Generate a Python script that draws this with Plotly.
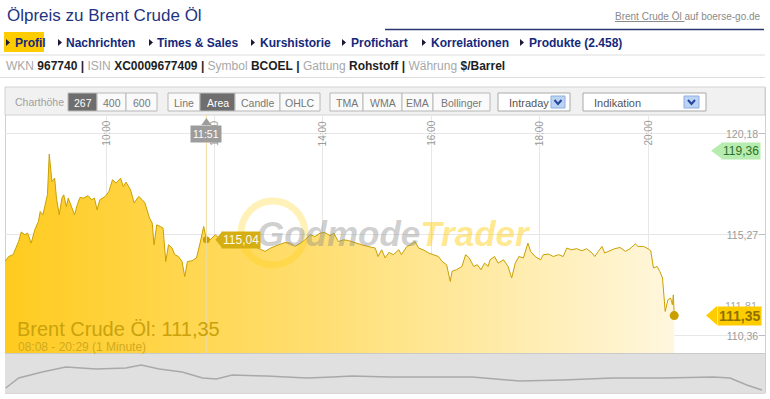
import plotly.graph_objects as go

W, H = 770, 399
DAY = "2012-03-01 "

# ---------------- data ----------------
times = ["08:08","08:12","08:17","08:23","08:26","08:30","08:33","08:37","08:41","08:45",
         "08:47","08:50","08:52","08:55","08:57","09:00","09:03","09:05","09:08","09:11",
         "09:13","09:16","09:18","09:21","09:25","09:28","09:31","09:35","09:40","09:44",
         "09:47","09:50","09:53","09:59","10:03","10:07","10:11","10:16","10:19","10:22",
         "10:27","10:31","10:36","10:40","10:43","10:48","10:51","10:53","10:56","11:00",
         "11:03","11:06","11:09","11:13","11:16","11:20","11:24","11:27","11:30","11:35",
         "11:40","11:44","11:48","11:51","11:55","12:01","12:12","12:28","12:45","12:56",
         "13:02","13:11","13:18","13:24","13:29","13:35","13:40","13:46","13:51","13:57",
         "14:02","14:08","14:12","14:17","14:23","14:28","14:36","14:43","14:50","14:58",
         "15:01","15:05","15:09","15:13","15:18","15:24","15:27","15:33","15:37","15:42",
         "15:46","15:51","15:57","16:02","16:08","16:12","16:17","16:21","16:23","16:28",
         "16:34","16:38","16:42","16:47","16:51","16:55","16:59","17:03","17:05","17:10",
         "17:14","17:20","17:25","17:29","17:33","17:37","17:42","17:47","17:50","17:55",
         "18:01","18:04","18:10","18:15","18:21","18:26","18:30","18:35","18:41","18:47",
         "18:52","18:58","19:01","19:05","19:09","19:12","19:18","19:23","19:29","19:35",
         "19:40","19:46","19:49","19:55","20:00","20:03","20:06","20:10","20:13","20:16",
         "20:19","20:22","20:25","20:27","20:28","20:29"]
prices = [113.98,114.22,114.31,114.95,115.41,115.28,115.36,114.87,115.52,115.92,
          116.41,116.25,116.65,117.22,119.20,117.86,118.03,117.06,116.25,117.06,
          117.22,116.65,117.06,116.73,116.25,116.73,117.09,117.06,117.18,116.98,
          117.06,116.49,116.98,117.14,117.38,117.95,117.79,118.03,117.62,117.84,
          117.46,116.82,117.14,116.98,116.82,116.09,115.85,114.79,115.76,115.68,
          115.60,113.98,114.79,114.63,114.31,114.22,113.98,113.25,113.98,114.01,
          114.15,114.87,115.68,115.04,115.03,115.28,114.79,114.94,114.69,114.47,
          114.63,114.79,114.90,114.87,114.71,114.87,115.03,115.28,115.19,115.36,
          115.39,115.23,115.36,114.95,115.03,115.00,114.87,114.79,114.71,114.63,
          114.22,114.55,114.15,114.42,114.31,114.55,114.31,114.71,114.79,114.95,
          114.63,114.55,114.39,114.31,114.22,113.98,113.82,113.01,113.50,113.58,
          113.74,114.31,114.15,113.74,113.82,113.58,113.90,113.74,114.06,114.22,
          113.90,114.06,113.74,113.18,113.90,114.22,114.15,114.87,114.47,114.22,
          114.06,114.31,114.34,114.22,114.31,114.22,114.63,114.55,114.60,114.50,
          114.60,114.39,114.22,114.47,114.71,114.39,114.50,114.60,114.66,114.47,
          114.60,114.83,114.71,114.71,114.60,114.50,113.66,113.74,113.50,113.18,
          111.55,112.12,112.20,111.88,112.36,111.35]

price_ticks = [110.36, 115.27, 120.18]
price_tick_text = ["110,36", "115,27", "120,18"]
time_ticks = ["10:00", "12:00", "14:00", "16:00", "18:00", "20:00"]

cursor_time = "11:51"
cursor_price = 115.04
day_high = 119.36
prev_mark = 111.81
last_price = 111.35
first_time = "08:08"
last_time = "20:29"

nav_pos = [0.1, 1.8, 4.9, 8.0, 12.0, 15.9, 17.9, 20.3, 23.3, 26.0, 27.8, 29.9, 34.4, 39.7,
           43.1, 45.7, 50.6, 55.9, 61.5, 67.7, 73.4, 80.0, 86.6, 93.2, 95.4, 97.6, 99.6]
nav_vals = [1.25, 3.75, 5.25, 6.5, 6.0, 6.25, 7.0, 6.0, 5.25, 3.75, 3.5, 4.5, 4.25, 3.75,
            4.0, 4.25, 4.0, 4.0, 4.0, 3.0, 3.25, 3.75, 3.75, 4.0, 3.75, 2.0, 0.75]

def fmt(v):
    return f"{v:.2f}".replace(".", ",")

# ---------------- helpers ----------------
def px(x): return x / W
def py(y): return 1 - y / H

shapes = []
annots = []

def rect(x0, y0, x1, y1, fill, line=None, lw=1, layer="below"):
    shapes.append(dict(type="rect", xref="paper", yref="paper",
                       x0=px(x0), x1=px(x1), y0=py(y1), y1=py(y0),
                       fillcolor=fill, layer=layer,
                       line=dict(color=line or fill, width=lw if line else 0)))

def hline(x0, x1, y, color, lw=1, layer="below"):
    shapes.append(dict(type="line", xref="paper", yref="paper",
                       x0=px(x0), x1=px(x1), y0=py(y), y1=py(y),
                       line=dict(color=color, width=lw), layer=layer))

def vline(x, y0, y1, color, lw=1, layer="below"):
    shapes.append(dict(type="line", xref="paper", yref="paper",
                       x0=px(x), x1=px(x), y0=py(y0), y1=py(y1),
                       line=dict(color=color, width=lw), layer=layer))

def text(x, y, s, size=12, color="#222", xanchor="left", family=None, **kw):
    f = dict(size=size, color=color)
    if family:
        f["family"] = family
    annots.append(dict(x=px(x), y=py(y), xref="paper", yref="paper", text=s,
                       showarrow=False, xanchor=xanchor, yanchor="middle", font=f, **kw))

def tri(x, y, color):
    shapes.append(dict(type="path", xref="paper", yref="paper",
                       path=f"M {px(x)},{py(y-3.5)} L {px(x+4)},{py(y)} L {px(x)},{py(y+3.5)} Z",
                       fillcolor=color, line=dict(width=0), layer="above"))

# ---------------- header ----------------
text(5, 15, "Ölpreis zu Brent Crude Öl", size=17, color="#1F347F")
text(763, 16, "<span style='text-decoration:underline'>Brent Crude Öl </span>auf boerse-go.de",
     size=10, color="#8a8a8a", xanchor="right")
hline(385, 764, 29.5, "#2a356f", 1.5)

# nav row
rect(4, 32, 44, 52, "#FFCC00")
nav_items = [("Profil", 6, 13), ("Nachrichten", 58, 64), ("Times & Sales", 149, 155),
             ("Kurshistorie", 251, 258), ("Profichart", 342, 349),
             ("Korrelationen", 422, 429), ("Produkte (2.458)", 520, 527)]
for lab, tx, lx in nav_items:
    tri(tx, 42.5, "#1a1a3a")
    text(lx, 43, "<b>" + lab + "</b>", size=12, color="#15297A")
hline(0, 765, 55, "#dddddd")

# info row
g = lambda s: "<span style='color:#a8a8a8'>" + s + "</span>"
info = (g("WKN") + " <b>967740</b> <b>|</b> " + g("ISIN") + " <b>XC0009677409</b> <b>|</b> "
        + g("Symbol") + " <b>BCOEL</b> <b>|</b> " + g("Gattung") + " <b>Rohstoff</b> <b>|</b> "
        + g("Währung") + " <b>$/Barrel</b>")
text(4, 66, info, size=12, color="#1e1e1e")
hline(0, 765, 77.5, "#dddddd")

# ---------------- toolbar ----------------
rect(5, 87, 765, 115, "#f1f1f1", "#d2d2d2", 1)
text(13, 102, "Charthöhe", size=10.5, color="#a0a0a0")
buttons = [("267", 68, 97, True), ("400", 97, 126, False), ("600", 126, 157, False),
           ("Line", 168, 200, False), ("Area", 200, 235, True), ("Candle", 235, 280, False),
           ("OHLC", 280, 320, False),
           ("TMA", 330, 363, False), ("WMA", 363, 402, False), ("EMA", 402, 433, False),
           ("Bollinger", 433, 490, False)]
for lab, x0, x1, sel in buttons:
    rect(x0, 93, x1, 111, "#6e6e6e" if sel else "#fafafa", "#b8b8b8", 1)
    text((x0 + x1) / 2, 102.5, lab, size=10.5, color="#ffffff" if sel else "#777777",
         xanchor="center")
drops = [("Intraday", 498, 570, 551, 565), ("Indikation", 583, 706, 684, 699)]
for lab, x0, x1, c0, c1 in drops:
    rect(x0, 93, x1, 111, "#ffffff", "#a9a9a9", 1)
    text(x0 + 9, 102.5, lab, size=11, color="#555555")
    rect(c0, 96, c1, 108, "#bcd3f3", "#8eaee0", 1)
    cx = (c0 + c1) / 2
    shapes.append(dict(type="path", xref="paper", yref="paper",
                       path=f"M {px(cx-3.5)},{py(100)} L {px(cx)},{py(104)} L {px(cx+3.5)},{py(100)}",
                       line=dict(color="#24479a", width=2), layer="above"))

# ---------------- chart frame ----------------
vline(5.5, 115, 393, "#cfcfcf")
vline(765.5, 87, 393, "#cfcfcf")
rect(5, 353, 765, 393, "#e0e0e0")
hline(5, 765, 353.5, "#cacaca")
hline(5, 765, 393.5, "#d6d6d6")

# ---------------- traces ----------------
X = [DAY + t for t in times]
fig = go.Figure()
fig.add_trace(go.Scatter(
    x=X, y=prices, mode="lines", line=dict(color="#C9A000", width=1),
    fill="tozeroy",
    fillgradient=dict(type="horizontal",
                      colorscale=[[0, "#FFCB1F"], [0.5, "#FFE078"], [1, "#FFF7DE"]]),
    hoverinfo="skip", showlegend=False))

# watermark
shapes.append(dict(type="circle", xref="paper", yref="paper",
                   x0=px(241), x1=px(305), y0=py(265), y1=py(201),
                   line=dict(color="rgba(255,204,0,0.28)", width=7), layer="above"))
annots.append(dict(x=px(394), y=py(233), xref="paper", yref="paper", showarrow=False,
                   xanchor="center", yanchor="middle",
                   text="<b><i><span style='color:rgba(140,140,140,0.42)'>Godmode</span>"
                        "<span style='color:rgba(255,204,0,0.45)'>Trader</span></i></b>",
                   font=dict(size=35, family="Liberation Sans, Arial")))

# cursor line at 11:51
shapes.append(dict(type="line", xref="x", yref="paper",
                   x0=DAY + cursor_time, x1=DAY + cursor_time, y0=py(353), y1=py(115),
                   line=dict(color="#efdc9c", width=1), layer="above"))

fig.add_trace(go.Scatter(x=[DAY + cursor_time], y=[cursor_price], mode="markers",
                         marker=dict(color="#C9A000", size=7), hoverinfo="skip", showlegend=False))
fig.add_trace(go.Scatter(x=[DAY + last_time], y=[last_price], mode="markers",
                         marker=dict(color="#C9A000", size=9), hoverinfo="skip", showlegend=False))

fig.add_trace(go.Scatter(x=nav_pos, y=nav_vals, xaxis="x2", yaxis="y2", mode="lines",
                         line=dict(color="#a9a9a9", width=1.5), hoverinfo="skip",
                         showlegend=False))

# time labels (rotated) at top of plot
for t in time_ticks:
    annots.append(dict(x=DAY + t, xref="x", y=py(119), yref="paper", text=t,
                       textangle=-90, showarrow=False, xanchor="center", yanchor="top",
                       font=dict(size=10, color="#9a9a9a")))

# 11:51 label with pointer
annots.append(dict(x=DAY + cursor_time, xref="x", y=py(125), yref="paper", text=cursor_time,
                   showarrow=False, xanchor="center", yanchor="top", bgcolor="#9c9c9c",
                   borderpad=2, font=dict(size=10.5, color="#ffffff")))
shapes.append(dict(type="path", xref="x", yref="paper", xsizemode="pixel",
                   xanchor=DAY + cursor_time,
                   path=f"M -5,{py(125)} L 0,{py(118)} L 5,{py(125)} Z",
                   fillcolor="#9c9c9c", line=dict(width=0), layer="above"))

# 115,04 tag
annots.append(dict(x=DAY + cursor_time, xref="x", y=cursor_price, yref="y", text=fmt(cursor_price),
                   showarrow=False, xanchor="left", yanchor="middle", xshift=15,
                   bgcolor="#D5AE12", borderpad=1, font=dict(size=12, color="#fffbe8")))
shapes.append(dict(type="path", xref="x", yref="y", xsizemode="pixel", ysizemode="pixel",
                   xanchor=DAY + cursor_time, yanchor=cursor_price,
                   path="M 9,0 L 16,8.5 L 16,-8.5 Z",
                   fillcolor="#D5AE12", line=dict(width=0), layer="above"))

# 119,36 tag (green)
annots.append(dict(x=px(761), xref="paper", y=day_high, yref="y", text=fmt(day_high),
                   showarrow=False, xanchor="right", yanchor="middle",
                   bgcolor="#b6ecae", borderpad=1, font=dict(size=12, color="#2c702c")))
shapes.append(dict(type="path", xref="paper", yref="y", ysizemode="pixel", yanchor=day_high,
                   path=f"M {px(711)},0 L {px(722)},8 L {px(722)},-8 Z",
                   fillcolor="#b6ecae", line=dict(width=0), layer="above"))

# 111,81 gray label, partly hidden by the last price tag
annots.append(dict(x=px(759), xref="paper", y=prev_mark, yref="y", text=fmt(prev_mark),
                   showarrow=False, xanchor="right", yanchor="middle",
                   font=dict(size=11, color="#aaaaaa")))
annots.append(dict(x=px(762), xref="paper", y=last_price, yref="y", text="<b>" + fmt(last_price) + "</b>",
                   showarrow=False, xanchor="right", yanchor="middle",
                   bgcolor="#FFCC00", borderpad=1, font=dict(size=14, color="#8e7000")))
shapes.append(dict(type="path", xref="paper", yref="y", ysizemode="pixel", yanchor=last_price,
                   path=f"M {px(706)},0 L {px(717)},9.5 L {px(717)},-9.5 Z",
                   fillcolor="#FFCC00", line=dict(width=0), layer="above"))

# bottom-left texts
text(15, 329, "Brent Crude Öl: " + fmt(last_price), size=20, color="#C9A20C")
text(16, 347, f"{first_time} - {last_time} (1 Minute)", size=12, color="#CFA920")

fig.update_layout(
    width=W, height=H, margin=dict(l=0, r=0, t=0, b=0),
    paper_bgcolor="white", plot_bgcolor="rgba(0,0,0,0)", showlegend=False,
    font=dict(family="Liberation Sans, Arial, sans-serif"),
    xaxis=dict(domain=[px(5), px(765)], range=[DAY + "08:08", DAY + "22:09:30"], type="date",
               tickvals=[DAY + t for t in time_ticks], showticklabels=False, ticks="",
               showgrid=True, gridcolor="#e7e7e7", gridwidth=1, zeroline=False, showline=False,
               fixedrange=True),
    yaxis=dict(domain=[py(353), py(115)], range=[109.53, 121.10], side="right",
               tickvals=price_ticks, ticktext=price_tick_text, ticklabelposition="inside",
               ticks="inside", ticklen=6, tickcolor="#bdbdbd",
               tickfont=dict(size=10.5, color="#9a9a9a"),
               showgrid=True, gridcolor="#e7e7e7", zeroline=False, showline=False,
               fixedrange=True),
    xaxis2=dict(domain=[px(5), px(765)], anchor="y2", range=[0, 100], visible=False),
    yaxis2=dict(domain=[py(393), py(353)], anchor="x2", range=[0, 10], visible=False),
    shapes=shapes, annotations=annots,
)

fig.write_html("out.html")
